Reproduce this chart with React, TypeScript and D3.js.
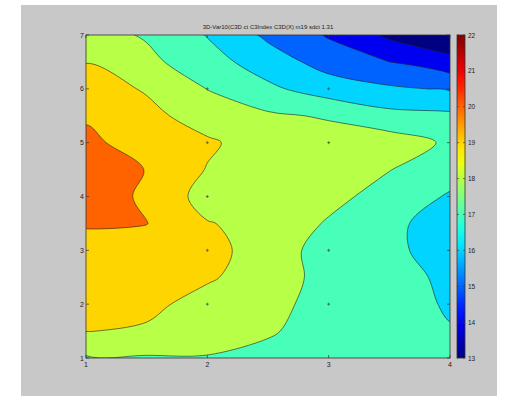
import React from 'react'
import * as d3 from 'd3'

// grid, columns x = 1..4 by 0.5, rows y = 7..1 by 0.5
const xValues = [1, 1.5, 2, 2.5, 3, 3.5, 4]
const yValues = [7, 6.5, 6, 5.5, 5, 4.5, 4, 3.5, 3, 2.5, 2, 1.5, 1]
const row7 = [18.4, 17.9, 16.95, 15.8, 14.9, 13.8, 13.1]
const row65 = [18.97, 18.25, 17.4, 16.5, 15.6, 15.0, 14.35]
const row6 = [19.5, 18.9, 17.98, 17.2, 16.5, 16.15, 15.9]
const row55 = [19.85, 19.3, 18.5, 18.15, 17.9, 17.3, 17.2]
const row5 = [20.3, 19.4, 19.15, 18.5, 18.45, 18.5, 17.85]
const row45 = [20.6, 19.97, 18.95, 18.5, 18.4, 18.03, 17.4]
const row4 = [20.5, 19.85, 18.6, 18.6, 18.3, 17.6, 16.9]
const row35 = [20.1, 20.02, 19.05, 18.7, 17.9, 17.2, 16.6]
const row3 = [19.6, 19.6, 19.35, 18.5, 17.6, 17.25, 16.5]
const row25 = [19.5, 19.4, 19.1, 18.6, 17.6, 17.45, 16.75]
const row2 = [19.4, 19.2, 18.7, 18.4, 17.5, 17.4, 16.9]
const row15 = [19.02, 18.9, 18.4, 18.15, 17.4, 17.35, 17.05]
const row1 = [17.9, 17.9, 17.95, 17.6, 17.2, 17.3, 17.2]
const gridRows = [row7, row65, row6, row55, row5, row45, row4, row35, row3, row25, row2, row15, row1]

const levels = [13, 14, 15, 16, 17, 18, 19, 20, 21]
const xTicks = [1, 2, 3, 4]
const yTicks = [1, 2, 3, 4, 5, 6, 7]
const cbTicks = [13, 14, 15, 16, 17, 18, 19, 20, 21, 22]
const markerPoints = [[2, 6], [3, 6], [2, 5], [3, 5], [2, 4], [2, 3], [3, 3], [2, 2], [3, 2]]
const title = '3D-Var10(C3D ct C3Index C3D(X) m19 sdct 1.31'

const W = 517
const H = 401
const plot = { left: 86, right: 450, top: 35, bottom: 358 }
const cb = { left: 457, right: 465 }
const cMin = 13
const cMax = 22

const clamp = (v: number) => Math.max(0, Math.min(1, v))
const jet = (t: number) => {
  const r = clamp(1.5 - Math.abs(4 * t - 3))
  const g = clamp(1.5 - Math.abs(4 * t - 2))
  const b = clamp(1.5 - Math.abs(4 * t - 1))
  return d3.rgb(r * 255, g * 255, b * 255).formatHex()
}

const App = () => {
  const xScale = d3.scaleLinear().domain([1, 4]).range([plot.left, plot.right])
  const yScale = d3.scaleLinear().domain([1, 7]).range([plot.bottom, plot.top])
  const cScale = d3.scaleLinear().domain([cMin, cMax]).range([plot.bottom, plot.top])

  const nx = xValues.length
  const ny = yValues.length
  const gx = d3.scaleLinear().domain([0.5, nx - 0.5]).range([xScale(xValues[0]), xScale(xValues[nx - 1])])
  const gy = d3.scaleLinear().domain([0.5, ny - 0.5]).range([yScale(yValues[0]), yScale(yValues[ny - 1])])

  const values = gridRows.flat()
  const contours = d3.contours().size([nx, ny]).thresholds(levels)(values)

  const ringLine = d3.line<number[]>()
    .x(p => gx(p[0]))
    .y(p => gy(p[1]))
    .curve(d3.curveCatmullRomClosed.alpha(0.5))

  const contourPath = (c: any) =>
    c.coordinates.map((poly: number[][][]) =>
      poly.map(ring => ringLine(ring.slice(0, ring.length - 1))).join('')
    ).join('')

  const jetStops = d3.range(0, 1.0001, 0.05)

  return (
    <svg width={W} height={H} style={{ position: 'absolute', left: 0, top: 0 }}
      fontFamily="Liberation Sans, Arial, sans-serif">
      <defs>
        <clipPath id="plotClip">
          <rect x={plot.left} y={plot.top} width={plot.right - plot.left} height={plot.bottom - plot.top} />
        </clipPath>
        <linearGradient id="jetGrad" x1="0" y1="1" x2="0" y2="0">
          {jetStops.map(t => <stop key={t} offset={t} stopColor={jet(t)} />)}
        </linearGradient>
      </defs>
      <rect x={0} y={0} width={W} height={H} fill="#ffffff" />
      <rect x={21} y={5} width={476} height={391} fill="#c8c8c8" />

      <g clipPath="url(#plotClip)">
        {contours.map(c => (
          <path key={c.value} d={contourPath(c)} fill={jet((c.value - cMin) / (cMax - cMin))}
            fillRule="evenodd" stroke="#202020" strokeWidth={0.6} />
        ))}
      </g>

      {markerPoints.map(([mx, my], i) => (
        <g key={i} stroke="#444" strokeWidth={0.7}>
          <line x1={xScale(mx) - 1.5} x2={xScale(mx) + 1.5} y1={yScale(my)} y2={yScale(my)} />
          <line x1={xScale(mx)} x2={xScale(mx)} y1={yScale(my) - 1.5} y2={yScale(my) + 1.5} />
        </g>
      ))}

      <rect x={plot.left} y={plot.top} width={plot.right - plot.left} height={plot.bottom - plot.top}
        fill="none" stroke="#333" strokeWidth={0.8} />

      {xTicks.map(t => (
        <g key={'x' + t}>
          <line x1={xScale(t)} x2={xScale(t)} y1={plot.bottom} y2={plot.bottom - 3} stroke="#333" strokeWidth={0.7} />
          <line x1={xScale(t)} x2={xScale(t)} y1={plot.top} y2={plot.top + 3} stroke="#333" strokeWidth={0.7} />
          <text x={xScale(t)} y={plot.bottom + 9} fontSize={7} textAnchor="middle" fill="#222">{t}</text>
        </g>
      ))}
      {yTicks.map(t => (
        <g key={'y' + t}>
          <line x1={plot.left} x2={plot.left + 3} y1={yScale(t)} y2={yScale(t)} stroke="#333" strokeWidth={0.7} />
          <line x1={plot.right} x2={plot.right - 3} y1={yScale(t)} y2={yScale(t)} stroke="#333" strokeWidth={0.7} />
          <text x={plot.left - 2} y={yScale(t) + 2.5} fontSize={7} textAnchor="end" fill="#222">{t}</text>
        </g>
      ))}

      <rect x={cb.left} y={plot.top} width={cb.right - cb.left} height={plot.bottom - plot.top}
        fill="url(#jetGrad)" stroke="#333" strokeWidth={0.8} />
      {cbTicks.map(t => (
        <g key={'c' + t}>
          <line x1={cb.left} x2={cb.left + 2} y1={cScale(t)} y2={cScale(t)} stroke="#333" strokeWidth={0.6} />
          <line x1={cb.right} x2={cb.right - 2} y1={cScale(t)} y2={cScale(t)} stroke="#333" strokeWidth={0.6} />
          <text x={cb.right + 3} y={cScale(t) + 2.5} fontSize={6.5} fill="#222">{t}</text>
        </g>
      ))}

      <text x={(plot.left + plot.right) / 2} y={plot.top - 6} fontSize={6} textAnchor="middle" fill="#222">{title}</text>
    </svg>
  )
}

export default App
